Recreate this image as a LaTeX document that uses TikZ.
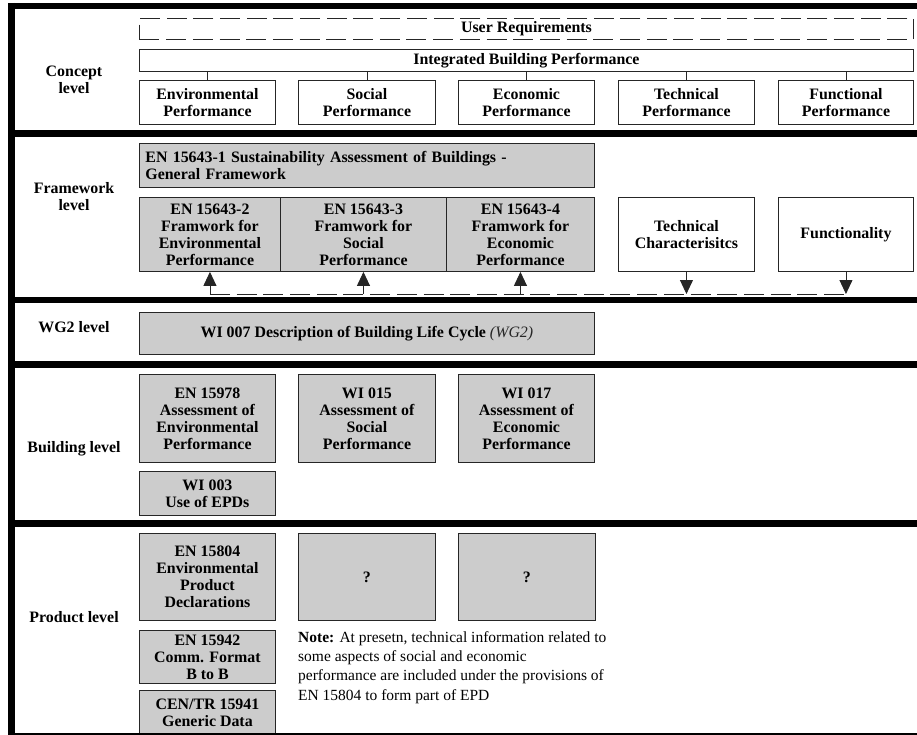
\documentclass[tikz,border=0pt]{standalone}
\usepackage{fontspec}
\setmainfont{Liberation Serif}
\usetikzlibrary{arrows.meta}
\definecolor{boxgray}{HTML}{CCCCCC}
\definecolor{edge}{HTML}{262626}

\begin{document}
\begin{tikzpicture}[x=1pt,y=-1pt,
  txt/.style={font=\fontsize{15.9}{17}\selectfont\bfseries, align=center, inner sep=0pt},
  sz/.style 2 args={minimum width=#1pt, minimum height=#2pt},
  wbox/.style={txt, draw=edge, line width=0.9pt, fill=white, anchor=north west},
  gbox/.style={wbox, fill=boxgray},
  lvl/.style={txt},
  bar/.style={line width=6.5pt, line cap=butt},
  link/.style={line width=0.9pt, draw=edge},
  flow/.style={link, -{Triangle[length=14pt,width=13pt]}},
  dashline/.style={link, dash pattern=on 20pt off 6.7pt},
]
\useasboundingbox (0,0) rectangle (917,735);

% ---------------- Concept level ----------------
\node[lvl] (lconcept) at (74,80) {Concept\\level};
\node[wbox, sz={774}{21}, dash pattern=on 20pt off 6.7pt] (ureq) at (139,18) {User Requirements};
\node[wbox, sz={774}{22}] (ibp) at (139,49) {Integrated Building Performance};
\node[wbox, sz={136}{44}] (envp) at (139,80) {Environmental\\Performance};
\node[wbox, sz={137}{44}] (socp) at (298,80) {Social\\Performance};
\node[wbox, sz={136}{44}] (ecop) at (458,80) {Economic\\Performance};
\node[wbox, sz={136}{44}] (tecp) at (618,80) {Technical\\Performance};
\node[wbox, sz={135}{44}] (funp) at (778,80) {Functional\\Performance};
\foreach \n in {envp,socp,ecop,tecp,funp}
  \draw[link] (\n.north) -- (\n.north |- ibp.south);

% ---------------- Framework level ----------------
\node[lvl] (lframe) at (74,197) {Framework\\level};
\node[gbox, sz={455}{44}, align=left, text width=443pt, inner xsep=6pt] (fw1) at (139,143)
  {EN 15643-1 Sustainability Assessment of Buildings -\\General Framework};
\node[gbox, sz={141}{74}] (fw2) at (139,197) {EN 15643-2\\Framwork for\\Environmental\\Performance};
\node[gbox, sz={166}{74}] (fw3) at (280,197) {EN 15643-3\\Framwork for\\Social\\Performance};
\node[gbox, sz={148}{74}] (fw4) at (446,197) {EN 15643-4\\Framwork for\\Economic\\Performance};
\node[wbox, sz={136}{74}] (tech) at (618,197) {Technical\\Characterisitcs};
\node[wbox, sz={135}{74}] (func) at (778,197) {Functionality};

\coordinate (bus) at (0,294);
\draw[dashline] (fw2.south |- bus) -- (func.south |- bus);
\foreach \n in {fw2,fw3,fw4}
  \draw[flow] (\n.south |- bus) -- (\n.south);
\foreach \n in {tech,func}
  \draw[flow] (\n.south) -- (\n.south |- bus);

% ---------------- WG2 level ----------------
\node[lvl] (lwg) at (74,327) {WG2 level};
\node[gbox, sz={455}{42}] (wi7) at (139,312)
  {WI 007 Description of Building Life Cycle \textit{\mdseries\color{black!85}(WG2)}};

% ---------------- Building level ----------------
\node[lvl] (lbuild) at (74,449) {Building level};
\node[gbox, sz={136}{88}] (bld1) at (139,374) {EN 15978\\Assessment of\\Environmental\\Performance};
\node[gbox, sz={137}{88}] (bld2) at (298,374) {WI 015\\Assessment of\\Social\\Performance};
\node[gbox, sz={136}{88}] (bld3) at (458,374) {WI 017\\Assessment of\\Economic\\Performance};
\node[gbox, sz={136}{44}] (bld4) at (139,471) {WI 003\\Use of EPDs};

% ---------------- Product level ----------------
\node[lvl] (lprod) at (74,617) {Product level};
\node[gbox, sz={136}{87}] (prd1) at (139,533) {EN 15804\\Environmental\\Product\\Declarations};
\node[gbox, sz={137}{87}] (prd2) at (298,533) {?};
\node[gbox, sz={137}{87}] (prd3) at (458,533) {?};
\node[gbox, sz={136}{53}] (prd4) at (139,630) {EN 15942\\Comm. Format\\B to B};
\node[gbox, sz={136}{44}] (prd5) at (139,690) {CEN/TR 15941\\Generic Data};
\node[font=\fontsize{15.5}{19.3}\selectfont, align=left, inner sep=0pt, anchor=north west] (note) at (298,631)
  {\textbf{Note:} At presetn, technical information related to\\
   some aspects of social and economic\\
   performance are included under the provisions of\\
   EN 15804 to form part of EPD};

% ---------------- Frame and level separators ----------------
\draw[bar] (11.5,3) -- (11.5,735);
\foreach \y in {6,133.5,300,364.5,523.7}
  \draw[bar] (8.25,\y) -- (917,\y);
\draw[line width=2pt] (8.25,734) -- (917,734);
\end{tikzpicture}
\end{document}
